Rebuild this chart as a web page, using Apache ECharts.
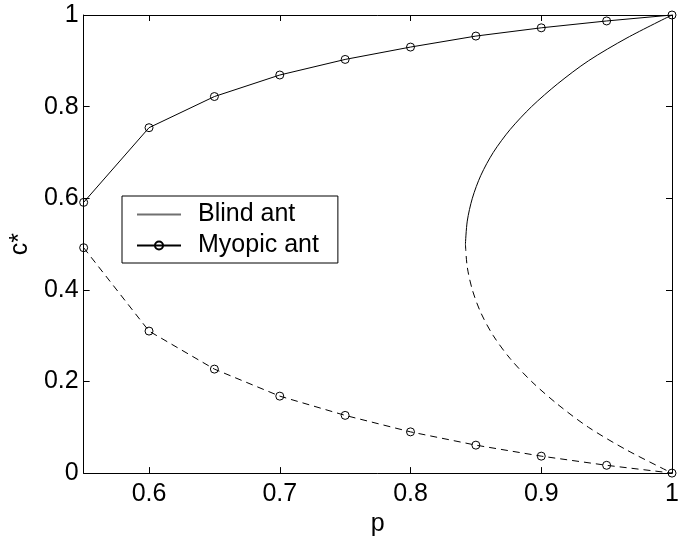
<!DOCTYPE html>
<html>
<head>
<meta charset="utf-8">
<script src="https://cdn.jsdelivr.net/npm/echarts@6/dist/echarts.min.js"></script>
<style>
  html, body { margin: 0; padding: 0; background: #fff; }
  #chart { width: 694px; height: 542px; }
</style>
</head>
<body>
<div id="chart"></div>
<script>
// Myopic ant: equilibrium c* sampled at each p
const myopicP     = [0.55, 0.60, 0.65, 0.70, 0.75, 0.80, 0.85, 0.90, 0.95, 1.00];
const myopicUpper = [0.591, 0.754, 0.822, 0.869, 0.903, 0.930, 0.954, 0.972, 0.987, 1.000];
const myopicLower = [0.492, 0.310, 0.227, 0.168, 0.126, 0.090, 0.061, 0.037, 0.017, 0.000];

// Blind ant: stable branch (upper, solid) and unstable branch (lower, dashed)
const blindUpperP = [0.842, 0.8434, 0.8473, 0.8538, 0.8633, 0.8762, 0.8926, 0.9126, 0.9361, 0.9656, 1.000];
const blindUpperC = [0.500, 0.550, 0.600, 0.650, 0.700, 0.750, 0.800, 0.850, 0.900, 0.950, 1.000];
const blindLowerP = [0.842, 0.8434, 0.8473, 0.8538, 0.8633, 0.8762, 0.8926, 0.9126, 0.9361, 0.9656, 1.000];
const blindLowerC = [0.500, 0.450, 0.400, 0.350, 0.300, 0.250, 0.200, 0.150, 0.100, 0.050, 0.000];

const xTicks = [0.6, 0.7, 0.8, 0.9, 1];
const yTicks = [0, 0.2, 0.4, 0.6, 0.8, 1];

const FONT = '"Liberation Sans", Arial, Helvetica, sans-serif';
const pairs = (xs, ys) => xs.map((x, i) => [x, ys[i]]);
const fmt = v => String(Math.round(v * 10) / 10);

const axisLineStyle = { color: '#000', width: 1 };

function xAxisDef(pos, withLabels) {
  return {
    type: 'value', position: pos, min: 0.55, max: 1,
    axisLine: { show: true, onZero: false, lineStyle: axisLineStyle },
    axisTick: { show: true, inside: true, length: 6, customValues: xTicks, lineStyle: axisLineStyle },
    axisLabel: withLabels
      ? { show: true, customValues: xTicks, formatter: fmt, fontSize: 25, color: '#000', fontFamily: FONT, margin: 9 }
      : { show: false },
    splitLine: { show: false }
  };
}
function yAxisDef(pos, withLabels) {
  return {
    type: 'value', position: pos, min: 0, max: 1,
    axisLine: { show: true, onZero: false, lineStyle: axisLineStyle },
    axisTick: { show: true, inside: true, length: 6, customValues: yTicks, lineStyle: axisLineStyle },
    axisLabel: withLabels
      ? { show: true, customValues: yTicks, formatter: fmt, fontSize: 25, color: '#000', fontFamily: FONT, margin: 5 }
      : { show: false },
    splitLine: { show: false }
  };
}

const xBottom = Object.assign(xAxisDef('bottom', true), {
  name: 'p', nameLocation: 'middle', nameGap: 37,
  nameTextStyle: { fontSize: 25, color: '#000', fontFamily: FONT }
});
const yLeft = Object.assign(yAxisDef('left', true), {
  name: 'c*', nameLocation: 'middle', nameGap: 31,
  nameTextStyle: { fontSize: 25, color: '#000', fontFamily: FONT }
});

const markerStyle = { color: 'rgba(0,0,0,0)', borderColor: '#000', borderWidth: 1 };

const chart = echarts.init(document.getElementById('chart'), null, { renderer: 'canvas' });
chart.setOption({
  animation: false,
  backgroundColor: '#fff',
  grid: { left: 79, right: 22, top: 15, bottom: 61 },
  xAxis: [xBottom, xAxisDef('top', false)],
  yAxis: [yLeft, yAxisDef('right', false)],
  legend: {
    left: 122, top: 196, orient: 'vertical',
    itemWidth: 44, itemHeight: 10, itemGap: 6,
    padding: [6, 19, 5, 14],
    borderColor: '#000', borderWidth: 1, borderRadius: 0,
    backgroundColor: '#fff',
    selectedMode: false,
    textStyle: { fontSize: 25, color: '#000', fontFamily: FONT, padding: [0, 0, 0, 12] },
    data: [
      { name: 'Blind ant', itemStyle: { opacity: 0 }, lineStyle: { color: '#707070' } },
      { name: 'Myopic ant' }
    ]
  },
  series: [
    {
      name: 'Blind ant', type: 'line', data: pairs(blindUpperP, blindUpperC),
      symbol: 'none', smooth: 0.3,
      lineStyle: { color: '#000', width: 1, type: 'solid' },
      itemStyle: { color: '#000' }
    },
    {
      name: 'Blind ant', type: 'line', data: pairs(blindLowerP, blindLowerC),
      symbol: 'none', smooth: 0.3,
      lineStyle: { color: '#000', width: 1, type: [7, 5] },
      itemStyle: { color: '#000' }
    },
    {
      name: 'Myopic ant', type: 'line', data: pairs(myopicP, myopicUpper),
      symbol: 'circle', symbolSize: 8, showAllSymbol: true,
      lineStyle: { color: '#000', width: 1, type: 'solid' },
      itemStyle: markerStyle
    },
    {
      name: 'Myopic ant', type: 'line', data: pairs(myopicP, myopicLower),
      symbol: 'circle', symbolSize: 8, showAllSymbol: true,
      lineStyle: { color: '#000', width: 1, type: [7, 5] },
      itemStyle: markerStyle
    }
  ]
});
</script>
</body>
</html>
